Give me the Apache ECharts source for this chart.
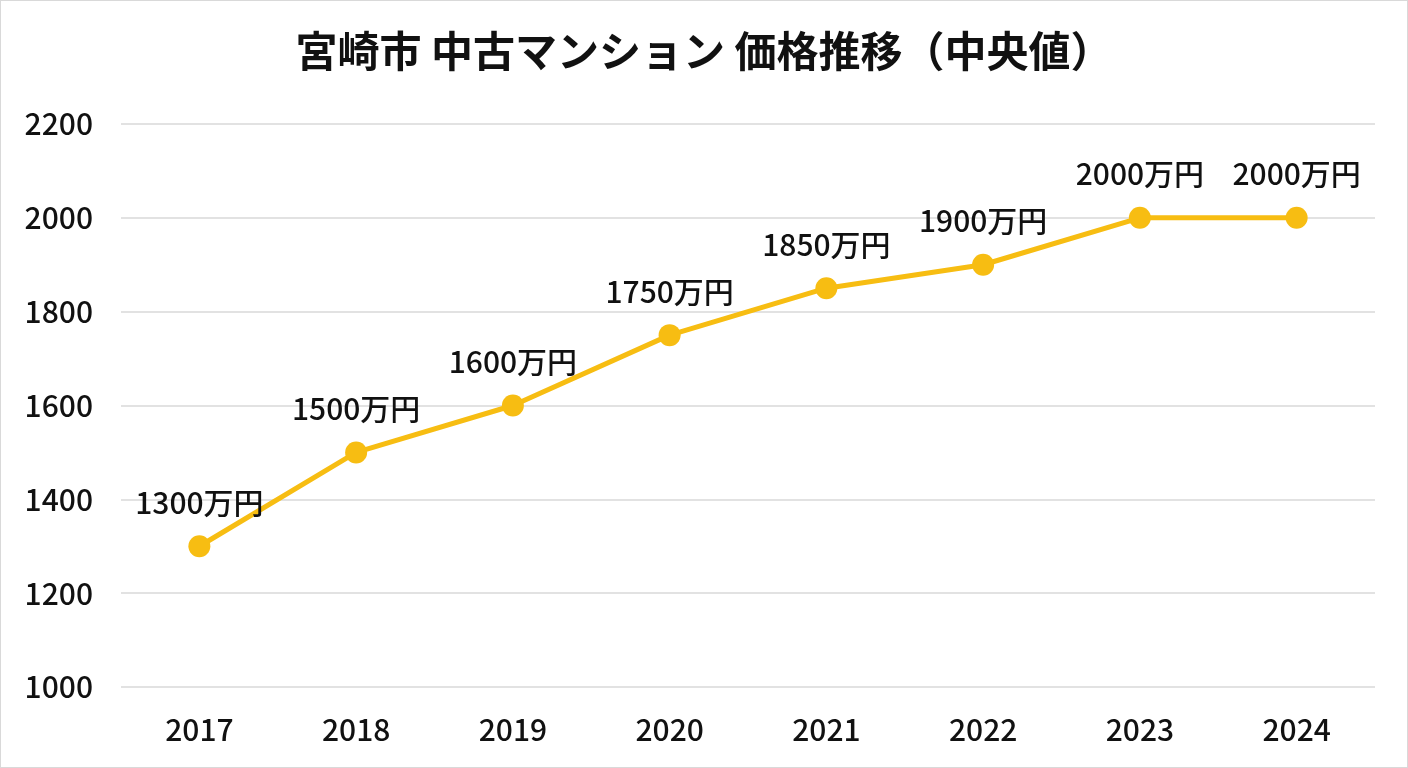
<!DOCTYPE html>
<html>
<head>
<meta charset="utf-8">
<script src="https://cdn.jsdelivr.net/npm/echarts@6/dist/echarts.min.js"></script>
<style>
  html, body { margin: 0; padding: 0; background: #fff; }
  #chart { width: 1406px; height: 766px; border: 1px solid #d9d9d9; }
</style>
</head>
<body>
<div id="chart"></div>
<script>
// data
var years = ['2017', '2018', '2019', '2020', '2021', '2022', '2023', '2024'];
var prices = [1300, 1500, 1600, 1750, 1850, 1900, 2000, 2000];

var chart = echarts.init(document.getElementById('chart'));
var font = '"Noto Sans CJK JP", "Noto Sans", sans-serif';

chart.setOption({
  textStyle: { fontFamily: font },
  title: {
    text: '宮崎市 中古マンション 価格推移（中央値）',
    left: 'center',
    top: 24,
    textStyle: { fontSize: 42, fontWeight: 'bold', color: '#111', fontFamily: font }
  },
  grid: { left: 120, right: 32, top: 123, bottom: 80 },
  xAxis: {
    type: 'category',
    data: years,
    axisLine: { show: false },
    axisTick: { show: false },
    axisLabel: { fontSize: 30, fontWeight: 500, color: '#111', margin: 28, fontFamily: font }
  },
  yAxis: {
    type: 'value',
    min: 1000,
    max: 2200,
    interval: 200,
    axisLabel: {
      fontSize: 30, fontWeight: 500, color: '#111', margin: 28, fontFamily: font,
      formatter: function (v) { return String(v); }
    },
    splitLine: { lineStyle: { color: '#d9d9d9', width: 1.5 } }
  },
  series: [{
    type: 'line',
    data: prices,
    symbol: 'circle',
    symbolSize: 22,
    lineStyle: { color: '#F7BD12', width: 5 },
    itemStyle: { color: '#F7BD12' },
    label: {
      show: true,
      position: 'top',
      distance: 18,
      fontSize: 30,
      fontWeight: 500,
      color: '#111',
      fontFamily: font,
      formatter: function (p) { return p.value + '万円'; }
    }
  }]
});
</script>
</body>
</html>
